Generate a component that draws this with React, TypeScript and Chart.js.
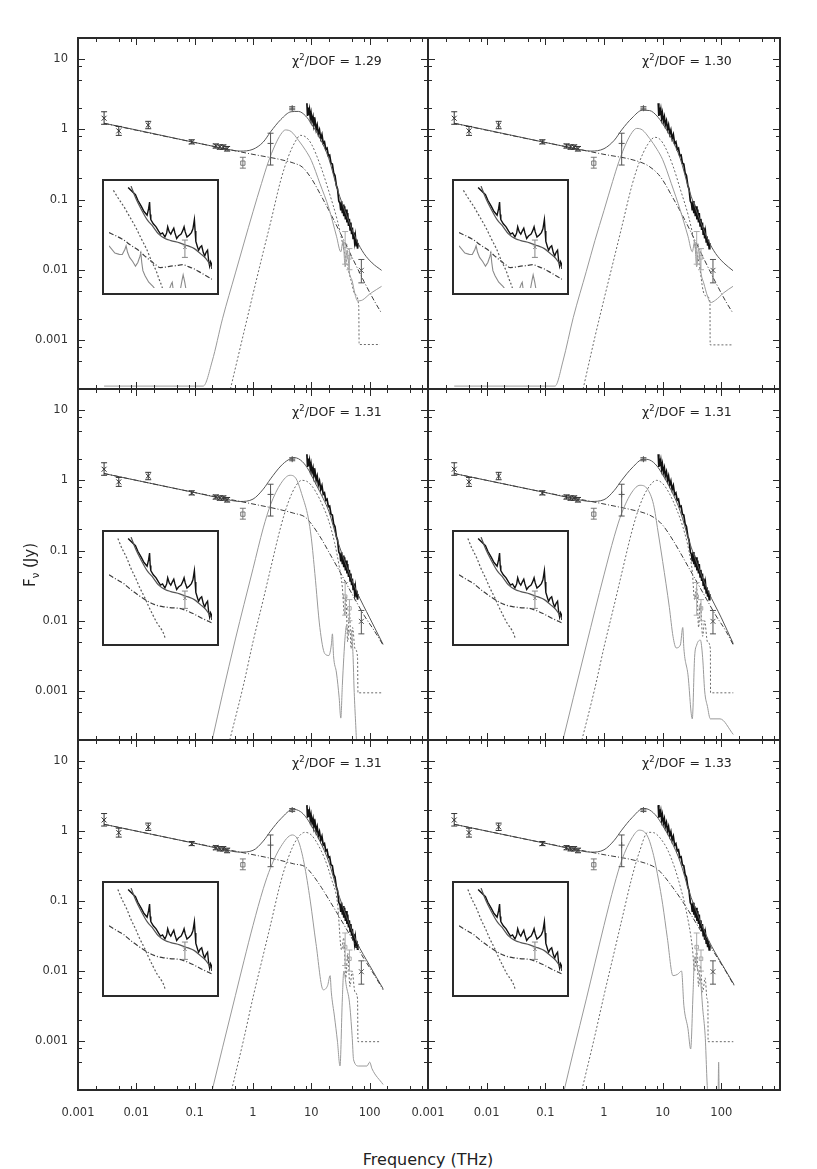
import React, { useEffect, useRef } from 'react';
import { Chart, registerables } from 'chart.js';

Chart.register(...registerables);

type Pt = [number, number];

// ---- observed photometry (frequency THz, flux Jy) ----
const photFreq = [0.0028, 0.005, 0.016, 0.089, 0.23, 0.27, 0.31, 0.36];
const photFlux = [1.44, 0.95, 1.15, 0.66, 0.58, 0.56, 0.56, 0.53];
const photLo = [1.18, 0.82, 1.02, 0.62, 0.54, 0.52, 0.52, 0.49];
const photHi = [1.78, 1.1, 1.3, 0.71, 0.62, 0.6, 0.6, 0.57];

const squareFreq = [0.67];
const squareFlux = [0.33];
const squareLo = [0.28];
const squareHi = [0.4];

const plusFreq = [2.0, 4.7];
const plusFlux = [0.63, 2.0];
const plusLo = [0.31, 1.9];
const plusHi = [0.88, 2.1];

const farFreq = [72];
const farFlux = [0.0098];
const farLo = [0.0065];
const farHi = [0.014];

const grayFreq = [38, 45];
const grayFlux = [0.022, 0.015];
const grayLo = [0.012, 0.01];
const grayHi = [0.035, 0.02];

// ---- mid-IR spectrum ----
const specFreq = [8.4, 8.6, 8.8, 9.0, 9.3, 9.6, 9.9, 10.3, 10.7, 11.1, 11.6, 12.1, 12.6, 13.2, 13.8, 14.5, 15.2, 16.0, 16.8, 17.7,
  18.6, 19.6, 20.6, 21.7, 22.9, 24.1, 25.4, 26.8, 28.2, 29.6, 31.0, 32.0, 33.0, 34.0, 35.0, 36.0, 37.2, 38.4, 39.6, 40.8,
  42.0, 43.4, 44.8, 46.2, 47.6, 49.0, 50.5, 52.0, 53.6, 55.2, 56.8, 58.5, 60.2, 62.0, 63.5];
const specFlux = [2.35, 1.55, 2.05, 1.6, 1.9, 1.45, 1.7, 1.3, 1.5, 1.15, 1.32, 1.0, 1.15, 0.86, 0.98, 0.74, 0.84, 0.63, 0.66, 0.52,
  0.54, 0.42, 0.43, 0.33, 0.32, 0.24, 0.22, 0.16, 0.14, 0.095, 0.088, 0.07, 0.095, 0.064, 0.085, 0.058, 0.08, 0.052, 0.072, 0.047,
  0.064, 0.042, 0.053, 0.037, 0.047, 0.032, 0.04, 0.028, 0.034, 0.025, 0.03, 0.022, 0.027, 0.02, 0.024];

// ---- model curves, panel 1 (chi2/DOF = 1.29) ----
const p1Total: Pt[] = [[0.0028, 1.22], [0.01, 0.98], [0.1, 0.65], [0.3, 0.54], [0.6, 0.49], [1, 0.52], [1.5, 0.66], [2, 0.92], [3, 1.38], [4.5, 1.78], [6, 1.8], [8, 1.55], [10, 1.2], [14, 0.75], [20, 0.38], [28, 0.14], [40, 0.06], [60, 0.026], [80, 0.017], [110, 0.0125], [160, 0.0098]];
const p1Power: Pt[] = [[0.0028, 1.22], [0.01, 0.97], [0.1, 0.65], [1, 0.44], [3, 0.37], [5, 0.33], [7, 0.29], [10, 0.2], [15, 0.11], [20, 0.07], [30, 0.036], [50, 0.015], [80, 0.0068], [120, 0.0036], [160, 0.0024]];
const p1Warm: Pt[] = [[0.0028, 2.2e-4], [0.14, 2.2e-4], [0.2, 5e-4], [0.3, 0.002], [0.5, 0.009], [0.7, 0.024], [1, 0.067], [1.4, 0.17], [1.8, 0.33], [2.4, 0.6], [3, 0.85], [3.6, 0.98], [4.5, 0.93], [6, 0.7], [8, 0.5], [10, 0.36], [14, 0.17], [20, 0.075], [27, 0.03], [32, 0.018], [35, 0.026], [38, 0.011], [41, 0.019], [45, 0.009], [50, 0.007], [56, 0.0045], [62, 0.0036], [75, 0.0037], [100, 0.0045], [130, 0.0052], [160, 0.0058]];
const p1Cold: Pt[] = [[0.41, 2e-4], [0.7, 0.0013], [1, 0.0045], [1.5, 0.018], [2, 0.047], [3, 0.19], [4, 0.4], [5.2, 0.65], [6.5, 0.82], [8, 0.78], [10, 0.62], [14, 0.32], [20, 0.13], [28, 0.05], [35, 0.022], [40, 0.013], [48, 0.007], [56, 0.0045], [65, 0.003], [66, 8.6e-4], [150, 8.6e-4]];

// ---- panel 2 (1.30) ----
const p2Total: Pt[] = [[0.0028, 1.22], [0.01, 0.98], [0.1, 0.65], [0.3, 0.54], [0.6, 0.49], [1, 0.53], [1.5, 0.7], [2, 0.98], [3, 1.45], [4.5, 1.87], [6, 1.85], [8, 1.55], [10, 1.2], [14, 0.75], [20, 0.38], [28, 0.14], [40, 0.06], [60, 0.026], [80, 0.017], [110, 0.0125], [158, 0.0097]];
const p2Power: Pt[] = [[0.0028, 1.22], [0.01, 0.97], [0.1, 0.65], [1, 0.44], [3, 0.37], [5.4, 0.31], [8, 0.24], [10, 0.19], [15, 0.105], [20, 0.068], [30, 0.035], [50, 0.0145], [80, 0.0066], [120, 0.0035], [158, 0.0024]];
const p2Warm: Pt[] = [[0.0028, 2.2e-4], [0.146, 2.2e-4], [0.2, 5e-4], [0.3, 0.0021], [0.5, 0.0095], [0.7, 0.026], [1, 0.07], [1.4, 0.18], [1.8, 0.35], [2.4, 0.64], [3, 0.9], [3.6, 1.03], [4.5, 0.98], [6, 0.74], [8, 0.52], [10, 0.37], [14, 0.17], [20, 0.07], [27, 0.03], [32, 0.018], [35, 0.025], [38, 0.011], [41, 0.02], [45, 0.009], [50, 0.0065], [58, 0.0042], [65, 0.0034], [80, 0.0037], [110, 0.0047], [158, 0.0058]];
const p2Cold: Pt[] = [[0.44, 2e-4], [0.7, 0.0011], [1, 0.0038], [1.5, 0.015], [2, 0.04], [3, 0.16], [4, 0.34], [5.5, 0.6], [7.4, 0.77], [9, 0.72], [11, 0.56], [15, 0.3], [20, 0.14], [28, 0.055], [35, 0.024], [42, 0.012], [49, 0.005], [56, 0.0042], [64, 0.0035], [64.5, 8.5e-4], [158, 8.5e-4]];

// ---- panel 3 (1.31) ----
const p3Total: Pt[] = [[0.0028, 1.25], [0.01, 1.0], [0.1, 0.67], [0.3, 0.55], [0.6, 0.5], [1, 0.54], [1.5, 0.75], [2, 1.05], [3, 1.6], [4, 1.95], [5.2, 2.1], [7, 1.85], [9, 1.4], [12, 0.88], [16, 0.55], [20, 0.36], [28, 0.14], [40, 0.06], [60, 0.026], [100, 0.011], [170, 0.0046]];
const p3Power: Pt[] = [[0.0028, 1.25], [0.01, 1.0], [0.1, 0.67], [1, 0.46], [3, 0.38], [5, 0.34], [7.8, 0.3], [10, 0.24], [15, 0.145], [20, 0.095], [30, 0.052], [50, 0.024], [80, 0.012], [120, 0.0072], [170, 0.0045]];
const p3Warm: Pt[] = [[0.2, 2e-4], [0.3, 9e-4], [0.5, 0.0055], [0.7, 0.017], [1, 0.055], [1.5, 0.21], [2, 0.45], [3, 0.9], [4.3, 1.18], [5.5, 1.05], [7, 0.6], [8.8, 0.3], [10, 0.15], [11.5, 0.047], [14, 0.008], [17, 0.0034], [20, 0.0032], [22, 0.0045], [23, 0.0065], [24, 0.0032], [27, 0.0018], [30, 8e-4], [32, 4.1e-4], [34, 0.0012], [36, 0.003], [38, 0.006], [40, 0.0085], [43, 0.0065], [47, 0.0075], [50, 0.0057], [52, 0.003], [54, 0.0011], [57, 4e-4], [60, 1.9e-4], [80, 1.2e-4], [170, 1e-4]];
const p3Cold: Pt[] = [[0.4, 2e-4], [0.7, 0.0013], [1, 0.005], [1.5, 0.02], [2, 0.055], [3, 0.22], [4, 0.48], [5.5, 0.85], [6.9, 1.0], [8.5, 0.96], [10, 0.85], [12, 0.68], [16, 0.42], [20, 0.26], [25, 0.13], [30, 0.06], [34, 0.03], [37, 0.012], [39, 0.022], [42, 0.005], [45, 0.014], [48, 0.004], [51, 0.008], [56, 0.004], [62, 0.003], [63, 9.4e-4], [170, 9.4e-4]];

// ---- panel 4 (1.31) ----
const p4Total: Pt[] = [[0.0028, 1.25], [0.01, 1.0], [0.1, 0.67], [0.3, 0.55], [0.6, 0.5], [1, 0.53], [1.5, 0.72], [2, 1.0], [3, 1.5], [4.7, 2.0], [6, 1.95], [8, 1.6], [10, 1.2], [14, 0.72], [20, 0.36], [28, 0.14], [40, 0.06], [60, 0.026], [100, 0.011], [160, 0.0047]];
const p4Power: Pt[] = [[0.0028, 1.25], [0.01, 1.0], [0.1, 0.67], [1, 0.46], [3, 0.38], [5, 0.34], [6.9, 0.3], [10, 0.23], [15, 0.14], [20, 0.093], [30, 0.051], [50, 0.024], [80, 0.012], [120, 0.0071], [160, 0.0045]];
const p4Warm: Pt[] = [[0.2, 2e-4], [0.3, 8e-4], [0.5, 0.0045], [0.7, 0.014], [1, 0.045], [1.5, 0.16], [2, 0.34], [3, 0.68], [4.1, 0.85], [5.5, 0.75], [7, 0.45], [8.3, 0.19], [10, 0.07], [13, 0.0155], [15, 0.006], [17, 0.0041], [20, 0.0045], [22, 0.008], [23, 0.004], [27, 0.0017], [32, 4e-4], [35, 0.003], [38, 0.0045], [44, 0.0053], [48, 0.003], [52, 0.001], [58, 6e-4], [65, 4e-4], [95, 4e-4], [160, 2.4e-4]];
const p4Cold: Pt[] = [[0.42, 2e-4], [0.7, 0.0011], [1, 0.0042], [1.5, 0.017], [2, 0.047], [3, 0.19], [4, 0.42], [5.5, 0.75], [7.9, 1.0], [10, 0.9], [13, 0.65], [17, 0.4], [22, 0.22], [28, 0.1], [32, 0.05], [35, 0.02], [38, 0.03], [41, 0.008], [44, 0.018], [48, 0.006], [52, 0.01], [58, 0.005], [65, 0.004], [65.5, 9.4e-4], [160, 9.4e-4]];

// ---- panel 5 (1.31) ----
const p5Total: Pt[] = [[0.0028, 1.25], [0.01, 1.0], [0.1, 0.67], [0.3, 0.55], [0.6, 0.5], [1, 0.53], [1.5, 0.72], [2, 1.0], [3, 1.5], [4.9, 2.05], [6.5, 1.9], [8, 1.6], [10, 1.2], [14, 0.72], [20, 0.36], [28, 0.14], [40, 0.06], [60, 0.026], [100, 0.012], [170, 0.0056]];
const p5Power: Pt[] = [[0.0028, 1.25], [0.01, 1.0], [0.1, 0.67], [1, 0.46], [3, 0.38], [5, 0.34], [7.8, 0.31], [10, 0.25], [15, 0.155], [20, 0.105], [30, 0.06], [50, 0.029], [80, 0.015], [120, 0.0088], [170, 0.0054]];
const p5Warm: Pt[] = [[0.2, 2e-4], [0.3, 8e-4], [0.5, 0.0045], [0.7, 0.014], [1, 0.045], [1.5, 0.15], [2, 0.3], [3, 0.6], [4.7, 0.88], [6, 0.72], [7.5, 0.35], [9.6, 0.1], [12, 0.025], [16, 0.0054], [19, 0.0062], [21, 0.0086], [22, 0.005], [25, 0.0022], [28, 0.001], [31, 4.4e-4], [34, 0.004], [36, 0.01], [40, 0.006], [45, 0.0036], [50, 0.0012], [53, 5.4e-4], [65, 4.4e-4], [90, 4.4e-4], [100, 5e-4], [110, 4e-4], [170, 2.4e-4]];
const p5Cold: Pt[] = [[0.43, 2e-4], [0.7, 0.0011], [1, 0.0042], [1.5, 0.017], [2, 0.046], [3, 0.19], [4, 0.41], [5.5, 0.74], [7.8, 0.96], [10, 0.88], [13, 0.64], [17, 0.4], [22, 0.21], [28, 0.095], [33, 0.02], [36, 0.03], [39, 0.008], [42, 0.018], [46, 0.006], [50, 0.01], [56, 0.005], [62, 0.004], [63, 9.8e-4], [150, 9.8e-4]];

// ---- panel 6 (1.33) ----
const p6Total: Pt[] = [[0.0028, 1.25], [0.01, 1.0], [0.1, 0.67], [0.3, 0.55], [0.6, 0.5], [1, 0.54], [1.5, 0.74], [2, 1.03], [3, 1.55], [4.7, 2.1], [6, 2.0], [8, 1.6], [10, 1.2], [14, 0.72], [20, 0.36], [28, 0.14], [40, 0.062], [60, 0.028], [100, 0.013], [165, 0.0064]];
const p6Power: Pt[] = [[0.0028, 1.25], [0.01, 1.0], [0.1, 0.67], [1, 0.46], [3, 0.39], [6, 0.33], [8, 0.29], [10, 0.24], [15, 0.155], [20, 0.11], [30, 0.065], [50, 0.032], [80, 0.017], [120, 0.0098], [165, 0.0062]];
const p6Warm: Pt[] = [[0.21, 2e-4], [0.3, 7e-4], [0.5, 0.004], [0.7, 0.013], [1, 0.045], [1.5, 0.17], [2, 0.38], [3, 0.8], [4, 1.03], [5.5, 0.85], [7, 0.45], [8.5, 0.2], [10, 0.09], [12, 0.03], [15, 0.0086], [18, 0.009], [21, 0.01], [23, 0.0032], [27, 0.0015], [30, 7.7e-4], [33, 0.005], [35, 0.016], [40, 0.01], [44, 0.0078], [48, 0.003], [53, 0.0012], [59, 1.8e-4], [80, 1.5e-4], [88, 1.9e-4], [90, 5e-4], [92, 1.8e-4], [170, 1.2e-4]];
const p6Cold: Pt[] = [[0.42, 2e-4], [0.7, 0.0012], [1, 0.0045], [1.5, 0.019], [2, 0.053], [3, 0.22], [4, 0.5], [5.6, 0.96], [7, 0.95], [9, 0.8], [12, 0.55], [16, 0.3], [20, 0.16], [25, 0.075], [32, 0.022], [35, 0.01], [38, 0.02], [41, 0.006], [44, 0.012], [48, 0.005], [53, 0.008], [57, 0.004], [59, 0.0035], [59.5, 9.8e-4], [160, 9.8e-4]];

// ---- inset (zoomed spectrum, box units 0-100) ----
const insetSpec: Pt[] = [[18.6, 98.6], [22, 95], [25.7, 91.4], [28, 86], [31.4, 80], [34, 75], [37, 71.4], [38.5, 78], [39.4, 84.3], [40, 72], [40.6, 67], [43, 63], [45.7, 60], [48, 56], [50, 52.9], [52, 54], [54.3, 50], [56, 54], [57, 60], [58.5, 55], [60, 52.9], [61.5, 56], [62.9, 58.6], [64, 54], [65.7, 48.6], [67.5, 51], [70, 52.9], [71.5, 56], [72.9, 60], [74, 55], [75.7, 50], [78, 52], [80, 54.3], [81.5, 58], [82.9, 67], [83.6, 56], [84.3, 45.7], [86, 40], [87, 37], [88.5, 40], [90, 41.4], [91.5, 35], [92.9, 31.4], [94.3, 35], [95.7, 37], [96.7, 27], [97.7, 21.4], [98.6, 25.7], [99.4, 24], [100, 18.6]];
const insetTotal: Pt[] = [[21.4, 100], [26, 88], [31.4, 77], [37, 67], [42.9, 60], [48, 53], [54.3, 48.6], [60, 46.5], [68.6, 44.3], [76, 41.5], [82.9, 38.6], [89, 33.5], [94.3, 28.6], [100, 20]];
const insetColdA: Pt[] = [[4.3, 95.7], [9, 88], [14.3, 80], [20, 70], [25.7, 60], [31, 49], [37, 37], [41, 27], [45.7, 17], [48.5, 9], [51.4, 1.4], [52.5, -3]];
const insetPowerA: Pt[] = [[0, 54.3], [7, 51], [14.3, 47], [21, 42], [28.6, 37], [34, 32], [40, 27], [45, 23], [50, 20], [55, 20.5], [60, 21.4], [66, 22], [71.4, 22.9], [77, 21], [82.9, 18.6], [90, 14.5], [100, 8.6]];
const insetWarmA: Pt[] = [[0, 41.4], [5.7, 34.3], [10, 33], [12.9, 32.9], [15.5, 38], [16.6, 41.4], [18, 35], [20, 30], [23, 26], [25.7, 21.4], [28, 25], [30, 31], [30.9, 34.3], [31.8, 25], [32.9, 17], [35, 12], [38.6, 5.7], [42.9, 1.4], [46, -3], [58, -3], [60.5, 4], [61.4, 5.7], [62.5, -3], [69, -3], [71, 8], [72, 12.9], [73.5, 6], [75, -3]];
const insetColdB: Pt[] = [[8.6, 98.6], [12.5, 89], [17, 80], [21, 70], [25.7, 60], [30, 50], [34.3, 41.4], [38.5, 32], [42.9, 22.9], [47, 15], [51.4, 8.6], [54.3, 1.4], [55, -3]];
const insetPowerB: Pt[] = [[0, 62.9], [7, 58.5], [14.3, 54.3], [21, 48.5], [28.6, 42.9], [36, 38], [42.9, 34.3], [48, 32.5], [54.3, 31.4], [61, 30.6], [68.6, 30], [76, 27.5], [82.9, 24.3], [91, 20], [100, 15.7]];
const insetObsX = [73.7];
const insetObsY = [40];
const insetObsLo = [30];
const insetObsHi = [47];

// ---- axis ticks ----
const xTickValues = [0.001, 0.01, 0.1, 1, 10, 100];
const xTickLabels = ['0.001', '0.01', '0.1', '1', '10', '100'];
const yTickValues = [0.001, 0.01, 0.1, 1, 10];
const yTickLabels = ['0.001', '0.01', '0.1', '1', '10'];
const xDecades = [0.001, 0.01, 0.1, 1, 10, 100];
const yDecades = [0.0001, 0.001, 0.01, 0.1, 1, 10];
const tickMults = [1, 2, 5, 8];

// ---- panel geometry (page px) ----
const colX = [78, 428];
const colW = [350, 352];
const rowY = [38, 389, 740];
const rowH = [351, 351, 350];

interface PanelCfg {
  chi: string;
  col: number;
  row: number;
  total: Pt[];
  power: Pt[];
  warm: Pt[];
  cold: Pt[];
  inset: 'A' | 'B';
}

const panels: PanelCfg[] = [
  { chi: '1.29', col: 0, row: 0, total: p1Total, power: p1Power, warm: p1Warm, cold: p1Cold, inset: 'A' },
  { chi: '1.30', col: 1, row: 0, total: p2Total, power: p2Power, warm: p2Warm, cold: p2Cold, inset: 'A' },
  { chi: '1.31', col: 0, row: 1, total: p3Total, power: p3Power, warm: p3Warm, cold: p3Cold, inset: 'B' },
  { chi: '1.31', col: 1, row: 1, total: p4Total, power: p4Power, warm: p4Warm, cold: p4Cold, inset: 'B' },
  { chi: '1.31', col: 0, row: 2, total: p5Total, power: p5Power, warm: p5Warm, cold: p5Cold, inset: 'B' },
  { chi: '1.33', col: 1, row: 2, total: p6Total, power: p6Power, warm: p6Warm, cold: p6Cold, inset: 'B' },
];

const FONT = '"DejaVu Sans", "Liberation Sans", sans-serif';

const toXY = (arr: Pt[]) => arr.map(([x, y]) => ({ x, y }));
const zipXY = (xs: number[], ys: number[]) => xs.map((x, i) => ({ x, y: ys[i] }));

const lineDs = (data: Pt[], color: string, dash: number[], width = 1, smooth = true) => ({
  data: toXY(data),
  showLine: true,
  borderColor: color,
  borderWidth: width,
  borderDash: dash,
  pointRadius: 0,
  fill: false,
  cubicInterpolationMode: smooth ? 'monotone' : 'default',
  tension: 0,
});

const pointDs = (xs: number[], ys: number[], lo: number[], hi: number[], style: string, color: string, r = 3.5) => ({
  data: zipXY(xs, ys),
  showLine: false,
  pointStyle: style,
  pointRadius: r,
  borderColor: color,
  backgroundColor: 'rgba(0,0,0,0)',
  borderWidth: 1,
  errLo: lo,
  errHi: hi,
});

// error bars drawn through the chart scales
const errorBarPlugin = {
  id: 'errorBars',
  afterDatasetsDraw(chart: any) {
    const { ctx, chartArea: a } = chart;
    const xs = chart.scales.x;
    const ys = chart.scales.y;
    ctx.save();
    ctx.beginPath();
    ctx.rect(a.left, a.top, a.right - a.left, a.bottom - a.top);
    ctx.clip();
    chart.data.datasets.forEach((ds: any) => {
      if (!ds.errLo) return;
      ctx.strokeStyle = ds.borderColor;
      ctx.lineWidth = 1;
      ds.data.forEach((p: any, j: number) => {
        const px = xs.getPixelForValue(p.x);
        const y1 = ys.getPixelForValue(ds.errLo[j]);
        const y2 = ys.getPixelForValue(ds.errHi[j]);
        ctx.beginPath();
        ctx.moveTo(px, y1);
        ctx.lineTo(px, y2);
        ctx.moveTo(px - 3, y1);
        ctx.lineTo(px + 3, y1);
        ctx.moveTo(px - 3, y2);
        ctx.lineTo(px + 3, y2);
        ctx.stroke();
      });
    });
    ctx.restore();
  },
};

// frame, inward ticks and decade labels
const framePlugin = {
  id: 'sedFrame',
  afterDraw(chart: any, _args: any, opts: any) {
    const { ctx, chartArea: a } = chart;
    const xs = chart.scales.x;
    const ys = chart.scales.y;
    ctx.save();
    ctx.strokeStyle = '#2a2a2a';
    ctx.lineWidth = 1;
    const seg = (x1: number, y1: number, x2: number, y2: number) => {
      ctx.beginPath();
      ctx.moveTo(x1, y1);
      ctx.lineTo(x2, y2);
      ctx.stroke();
    };
    xDecades.forEach((d) => tickMults.forEach((m) => {
      const v = d * m;
      if (v <= xs.min || v >= xs.max) return;
      const px = Math.round(xs.getPixelForValue(v)) + 0.5;
      const len = m === 1 ? 7 : 4;
      seg(px, a.bottom, px, a.bottom - len);
      seg(px, a.top, px, a.top + len);
    }));
    yDecades.forEach((d) => tickMults.forEach((m) => {
      const v = d * m;
      if (v <= ys.min || v >= ys.max) return;
      const py = Math.round(ys.getPixelForValue(v)) + 0.5;
      const len = m === 1 ? 7 : 4;
      seg(a.left, py, a.left + len, py);
      seg(a.right, py, a.right - len, py);
    }));
    ctx.lineWidth = 2;
    ctx.strokeRect(a.left, a.top, a.right - a.left, a.bottom - a.top);

    ctx.fillStyle = '#333';
    ctx.font = `11.5px ${FONT}`;
    if (opts.showY) {
      ctx.textAlign = 'right';
      ctx.textBaseline = 'middle';
      yTickValues.forEach((v, i) => ctx.fillText(yTickLabels[i], a.left - 10, ys.getPixelForValue(v)));
    }
    if (opts.showX) {
      ctx.textAlign = 'center';
      ctx.textBaseline = 'top';
      xTickValues.forEach((v, i) => ctx.fillText(xTickLabels[i], xs.getPixelForValue(v), a.bottom + 17));
    }
    ctx.restore();
  },
};

const PAD = 12;

function SedPanel({ p }: { p: PanelCfg }) {
  const canvasRef = useRef<HTMLCanvasElement>(null);
  const padL = p.col === 0 ? 78 : 30;
  const padB = p.row === 2 ? 42 : PAD;
  const w = padL + colW[p.col] + PAD;
  const h = PAD + rowH[p.row] + padB;

  useEffect(() => {
    if (!canvasRef.current) return;
    const chart = new Chart(canvasRef.current, {
      type: 'scatter',
      data: {
        datasets: [
          lineDs(p.warm, '#9a9a9a', []),
          lineDs(p.cold, '#6a6a6a', [2, 2]),
          lineDs(p.power, '#3c3c3c', [5, 2, 1, 2]),
          lineDs(p.total, '#555', []),
          lineDs(specFreq.map((f, i) => [f, specFlux[i]] as Pt), '#111', [], 1.7, false),
          pointDs(grayFreq, grayFlux, grayLo, grayHi, 'rect', '#aaa', 2.5),
          pointDs(photFreq, photFlux, photLo, photHi, 'crossRot', '#333'),
          pointDs(squareFreq, squareFlux, squareLo, squareHi, 'rect', '#777', 3),
          pointDs(plusFreq, plusFlux, plusLo, plusHi, 'cross', '#555', 3),
          pointDs(farFreq, farFlux, farLo, farHi, 'crossRot', '#555'),
        ] as any,
      },
      options: {
        animation: false,
        responsive: false,
        events: [],
        layout: { padding: { left: padL, top: PAD, right: PAD, bottom: padB } },
        scales: {
          x: { type: 'logarithmic', min: 0.001, max: 1000, display: false },
          y: { type: 'logarithmic', min: 0.0002, max: 20, display: false },
        },
        plugins: {
          legend: { display: false },
          tooltip: { enabled: false },
          sedFrame: { showX: p.row === 2, showY: p.col === 0 },
        } as any,
      },
      plugins: [errorBarPlugin, framePlugin],
    });
    return () => chart.destroy();
  }, [p]);

  return (
    <canvas
      ref={canvasRef}
      width={w}
      height={h}
      style={{ position: 'absolute', left: colX[p.col] - padL, top: rowY[p.row] - PAD, width: w, height: h }}
    />
  );
}

function Inset({ p }: { p: PanelCfg }) {
  const canvasRef = useRef<HTMLCanvasElement>(null);
  const boxW = 117;
  const boxH = 116;

  useEffect(() => {
    if (!canvasRef.current) return;
    const cold = p.inset === 'A' ? insetColdA : insetColdB;
    const power = p.inset === 'A' ? insetPowerA : insetPowerB;
    const datasets: any[] = [
      lineDs(cold, '#5a5a5a', [2, 2], 1.2),
      lineDs(power, '#3c3c3c', [5, 2, 1, 2], 1.2),
      lineDs(insetTotal, '#555', [], 1.2),
      lineDs(insetSpec, '#111', [], 1.4, false),
      pointDs(insetObsX, insetObsY, insetObsLo, insetObsHi, 'crossRot', '#888', 2.5),
    ];
    if (p.inset === 'A') datasets.unshift(lineDs(insetWarmA, '#8a8a8a', [], 1.1, false));
    const chart = new Chart(canvasRef.current, {
      type: 'scatter',
      data: { datasets },
      options: {
        animation: false,
        responsive: false,
        events: [],
        layout: { padding: 0 },
        scales: {
          x: { type: 'linear', min: 0, max: 100, display: false },
          y: { type: 'linear', min: 0, max: 100, display: false },
        },
        plugins: { legend: { display: false }, tooltip: { enabled: false } },
      },
      plugins: [errorBarPlugin],
    });
    return () => chart.destroy();
  }, [p]);

  return (
    <div
      style={{
        position: 'absolute',
        left: colX[p.col] + 24,
        top: rowY[p.row] + 141,
        width: boxW,
        height: boxH,
        boxSizing: 'border-box',
        border: '2px solid #2a2a2a',
        background: '#fff',
      }}
    >
      <canvas ref={canvasRef} width={boxW - 4} height={boxH - 4} style={{ display: 'block', width: boxW - 4, height: boxH - 4 }} />
    </div>
  );
}

export default function App() {
  return (
    <div style={{ position: 'absolute', left: 0, top: 0, width: 817, height: 1169, background: '#fff', fontFamily: FONT, color: '#222' }}>
      {panels.map((p, i) => (
        <SedPanel key={`panel-${i}`} p={p} />
      ))}
      {panels.map((p, i) => (
        <Inset key={`inset-${i}`} p={p} />
      ))}
      {panels.map((p, i) => (
        <div
          key={`chi-${i}`}
          style={{
            position: 'absolute',
            left: colX[p.col] + 214,
            top: rowY[p.row] + 15,
            fontSize: 12.5,
            whiteSpace: 'nowrap',
            lineHeight: '15px',
          }}
        >
          χ<sup style={{ fontSize: 8.5, lineHeight: 0 }}>2</sup>/DOF = {p.chi}
        </div>
      ))}
      <div
        style={{
          position: 'absolute',
          left: 30,
          top: 565,
          transform: 'translate(-50%, -50%) rotate(-90deg)',
          fontSize: 15,
          whiteSpace: 'nowrap',
        }}
      >
        F<sub style={{ fontSize: 10, lineHeight: 0 }}>ν</sub> (Jy)
      </div>
      <div
        style={{
          position: 'absolute',
          left: 428,
          top: 1150,
          transform: 'translateX(-50%)',
          fontSize: 16,
          whiteSpace: 'nowrap',
        }}
      >
        Frequency (THz)
      </div>
    </div>
  );
}
